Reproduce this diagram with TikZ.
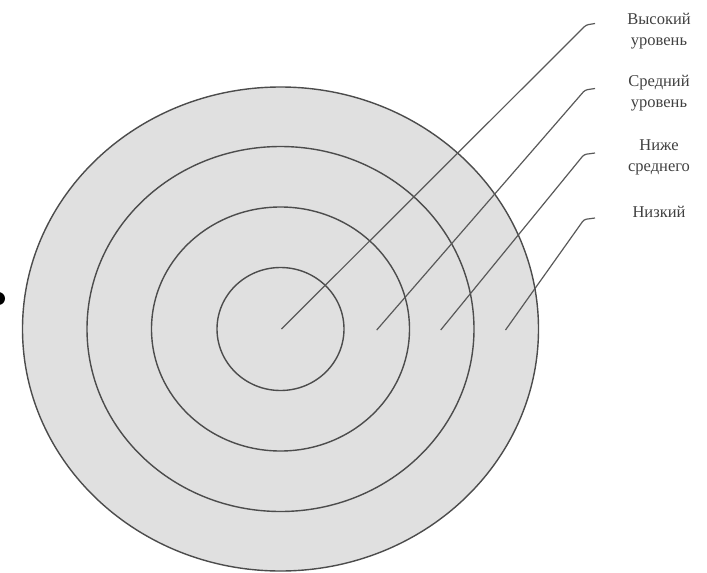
\documentclass[tikz,border=0pt]{standalone}
\usepackage{fontspec}
\setmainfont{Liberation Serif}
\begin{document}
\begin{tikzpicture}[x=1pt,y=-1pt,
  ring/.style={draw=black!70,line width=1.4pt},
  leader/.style={draw=black!65,line width=1.2pt,rounded corners=2.5pt},
  lbl/.style={text=black!75,align=center,font=\fontsize{16.5}{21.5}\selectfont,inner sep=0pt}]
\useasboundingbox (0,0) rectangle (707,573);
\clip (0,0) rectangle (707,573);
% target
\coordinate (c) at (280.5,329);
\fill[black!12] (c) ellipse [x radius=258,y radius=242];
\draw[ring] (c) ellipse [x radius=258,y radius=242];
\draw[ring] (c) ellipse [x radius=193.5,y radius=182.5];
\draw[ring] (c) ellipse [x radius=129,y radius=122];
\draw[ring] (c) ellipse [x radius=63.5,y radius=61.5];
% left dot
\fill[black] (-1.5,298.5) circle [radius=6.5];
% labels
\node[lbl] (l1) at (659,31) {Высокий\\уровень};
\node[lbl] (l2) at (659,93) {Средний\\уровень};
\node[lbl] (l3) at (659,157.5) {Ниже\\среднего};
\node[lbl] (l4) at (659,212) {Низкий};
% leader lines
\coordinate (s1) at (281.5,329);
\coordinate (b1) at (586,25);
\coordinate (e1) at (595,23.5);
\coordinate (s2) at (376.7,330);
\coordinate (b2) at (585,90);
\coordinate (e2) at (595,88.5);
\coordinate (s3) at (440.7,330);
\coordinate (b3) at (584,154.5);
\coordinate (e3) at (595,153);
\coordinate (s4) at (505.5,330);
\coordinate (b4) at (584,219.5);
\coordinate (e4) at (595,218);
\draw[leader] (s1) -- (b1) -- (e1);
\draw[leader] (s2) -- (b2) -- (e2);
\draw[leader] (s3) -- (b3) -- (e3);
\draw[leader] (s4) -- (b4) -- (e4);
\end{tikzpicture}
\end{document}
